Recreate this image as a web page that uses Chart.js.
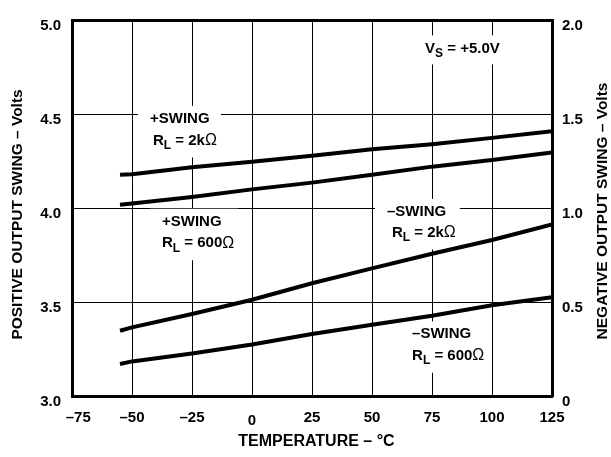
<!DOCTYPE html>
<html><head><meta charset="utf-8">
<script src="https://cdn.jsdelivr.net/npm/chart.js@4/dist/chart.umd.min.js"></script>
<style>html,body{margin:0;padding:0;background:#fff}#wrap{width:611px;height:457px;position:relative}</style>
</head><body><div id="wrap"><canvas id="c" width="611" height="457"></canvas></div>
<script>
// ---- data ----
const temperatures = [-55, -50, -25, 0, 25, 50, 75, 100, 125];
const posSwing2k  = [4.177, 4.180, 4.217, 4.246, 4.278, 4.312, 4.339, 4.373, 4.408];
const posSwing600 = [4.017, 4.024, 4.059, 4.099, 4.135, 4.177, 4.220, 4.255, 4.295];
const negSwing2k  = [0.347, 0.365, 0.436, 0.512, 0.600, 0.679, 0.757, 0.830, 0.913];
const negSwing600 = [0.170, 0.184, 0.226, 0.274, 0.330, 0.379, 0.427, 0.483, 0.526];
const xTicks = [-75, -50, -25, 0, 25, 50, 75, 100, 125];
const xTickLabels = ['   \u201375', '\u201350', '\u201325', '0', '25', '50', '75', '100', '125'];
const leftTicks = [3.0, 3.5, 4.0, 4.5, 5.0];
const leftTickLabels = ['3.0', '3.5', '4.0', '4.5', '5.0'];
const rightTicks = [0, 0.5, 1.0, 1.5, 2.0];
const rightTickLabels = ['0', '0.5', '1.0', '1.5', '2.0'];

const FONT = '"Liberation Sans", Arial, Helvetica, sans-serif';
const titleFont = {family: FONT, size: 15.5, weight: 'bold'};
// y tick labels sit a little below their grid lines: three-line label with tight line height
const yTickFont = {family: FONT, size: 15, weight: 'bold', lineHeight: 0.4};
const xTickFont = {family: FONT, size: 15, weight: 'bold', lineHeight: 0.2};

// label annotations (temperature, volts on left axis)
const notes = [
  {x: -42.5, y: 4.474, y2: 4.359, x2: -41.25, l1: [['+SWING']], l2: [['R'], ['L', 'sub'], [' = 2k'], ['\u03A9', 'sym']]},
  {x: -37.5, y: 3.927, y2: 3.8125, x2: -37.5, l1: [['+SWING']], l2: [['R'], ['L', 'sub'], [' = 600'], ['\u03A9', 'sym']]},
  {x: 56.25, y: 3.979, y2: 3.870, x2: 58.3, l1: [['\u2013SWING']], l2: [['R'], ['L', 'sub'], [' = 2k'], ['\u03A9', 'sym']]},
  {x: 66.7, y: 3.328, y2: 3.214, x2: 66.7, l1: [['\u2013SWING']], l2: [['R'], ['L', 'sub'], [' = 600'], ['\u03A9', 'sym']]},
  {x: 72.1, y: 4.849, l1: [['V'], ['S', 'sub'], [' = +5.0V']]}
];

function segFont(kind) {
  if (kind === 'sub') return 'bold 12px ' + FONT;
  if (kind === 'sym') return 'normal 16px ' + FONT;
  return 'bold 15px ' + FONT;
}
function segWidth(ctx, segs) {
  let w = 0;
  for (const s of segs) { ctx.font = segFont(s[1]); w += ctx.measureText(s[0]).width; }
  return w;
}
function drawSegs(ctx, segs, x, y) {
  for (const s of segs) {
    ctx.font = segFont(s[1]);
    ctx.fillText(s[0], x, s[1] === 'sub' ? y + 5 : y);
    x += ctx.measureText(s[0]).width;
  }
}

const notesPlugin = {
  id: 'notes',
  beforeDatasetsDraw(chart) {
    const ctx = chart.ctx, xs = chart.scales.x, ys = chart.scales.y;
    ctx.save();
    ctx.textBaseline = 'middle';
    ctx.textAlign = 'left';
    for (const n of notes) {
      const px = xs.getPixelForValue(n.x), py = ys.getPixelForValue(n.y);
      let left = px, right = px + segWidth(ctx, n.l1), bottom = py + 16;
      let px2, py2;
      if (n.l2) {
        px2 = xs.getPixelForValue(n.x2); py2 = ys.getPixelForValue(n.y2);
        left = Math.min(left, px2); right = Math.max(right, px2 + segWidth(ctx, n.l2));
        bottom = py2 + 17;
      }
      ctx.fillStyle = '#fff';
      ctx.fillRect(left - 12, py - 13, right - left + 16, bottom - (py - 13));
      ctx.fillStyle = '#000';
      drawSegs(ctx, n.l1, px, py);
      if (n.l2) drawSegs(ctx, n.l2, px2, py2);
    }
    ctx.restore();
  },
  afterDraw(chart) {
    const ctx = chart.ctx, a = chart.chartArea;
    ctx.save();
    ctx.fillStyle = '#000';
    ctx.font = 'bold 15.5px ' + FONT;
    ctx.textAlign = 'center';
    ctx.textBaseline = 'middle';
    ctx.translate(603, (a.top + a.bottom) / 2 + 3);
    ctx.rotate(-Math.PI / 2);
    ctx.fillText('NEGATIVE OUTPUT SWING \u2013 Volts', 0, 0);
    ctx.restore();
  }
};

function mkLine(data, axis) {
  return {data: temperatures.map((t, i) => ({x: t, y: data[i]})), yAxisID: axis,
    borderColor: '#000', borderWidth: 4, pointRadius: 0, tension: 0, fill: false};
}

new Chart(document.getElementById('c'), {
  type: 'line',
  data: {datasets: [
    mkLine(posSwing2k, 'y'), mkLine(posSwing600, 'y'),
    mkLine(negSwing2k, 'y2'), mkLine(negSwing600, 'y2')
  ]},
  options: {
    responsive: false, animation: false,
    layout: {padding: 0},
    plugins: {legend: {display: false}, tooltip: {enabled: false}},
    scales: {
      x: {type: 'linear', position: 'bottom', min: -75, max: 125,
        afterBuildTicks: s => { s.ticks = xTicks.map(v => ({value: v})); },
        ticks: {callback: (v) => { const l = xTickLabels[xTicks.indexOf(v)]; return v === 0 ? ['', l] : l; },
          padding: 20, font: xTickFont, color: '#000', maxRotation: 0, autoSkip: false},
        grid: {color: '#000', lineWidth: 1, drawTicks: false},
        border: {display: true, color: '#000', width: 3},
        title: {display: true, text: '  TEMPERATURE \u2013 \u00B0C', color: '#000', font: {family: FONT, size: 16, weight: 'bold'}, padding: {top: 0, bottom: 6}},
        afterFit: s => { s.height = 61; }
      },
      x2: {type: 'linear', position: 'top', min: -75, max: 125,
        ticks: {display: false}, grid: {drawOnChartArea: false, drawTicks: false},
        border: {display: true, color: '#000', width: 3},
        afterFit: s => { s.height = 12; }
      },
      y: {type: 'linear', position: 'left', min: 3, max: 5,
        afterBuildTicks: s => { s.ticks = leftTicks.map(v => ({value: v})); },
        ticks: {callback: (v) => ['', '', leftTickLabels[leftTicks.indexOf(v)]], padding: 11, font: yTickFont, color: '#000'},
        grid: {color: '#000', lineWidth: 1, drawTicks: false},
        border: {display: true, color: '#000', width: 3},
        title: {display: true, text: 'POSITIVE OUTPUT SWING \u2013 Volts   ', color: '#000', font: titleFont, padding: {top: 8, bottom: 0}},
        afterFit: s => { s.width = 72; }
      },
      y2: {type: 'linear', position: 'right', min: 0, max: 2,
        afterBuildTicks: s => { s.ticks = rightTicks.map(v => ({value: v})); },
        ticks: {callback: (v) => ['', '', rightTickLabels[rightTicks.indexOf(v)]], padding: 10, font: yTickFont, color: '#000'},
        grid: {drawOnChartArea: false, drawTicks: false},
        border: {display: true, color: '#000', width: 3},
        afterFit: s => { s.width = 59; }
      }
    }
  },
  plugins: [notesPlugin]
});
</script>
</body></html>
